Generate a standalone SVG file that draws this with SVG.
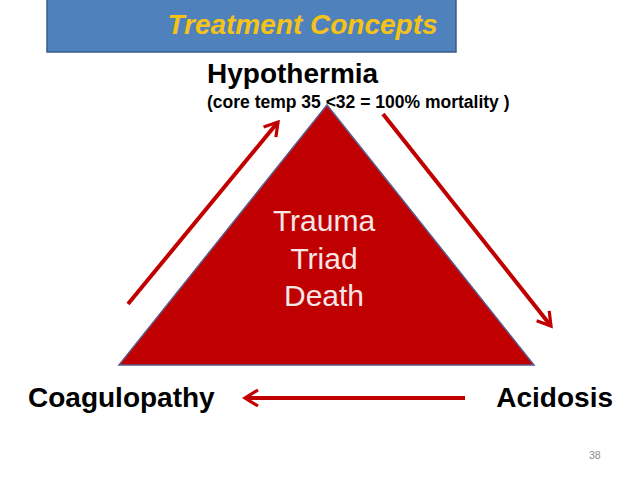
<svg xmlns="http://www.w3.org/2000/svg" width="638" height="479" viewBox="0 0 638 479">
<style>
.lbl{font-family:"Liberation Sans",Arial,sans-serif;font-weight:bold;fill:#000}
.tri{font-family:"Liberation Sans",Arial,sans-serif;font-size:30px;fill:#f6e6e6;text-anchor:middle}
.arr{stroke:#c00000;stroke-width:4;fill:none;stroke-linecap:butt}
</style>
<defs>
<marker id="ah" viewBox="0 0 10 10" refX="8" refY="5" markerWidth="5" markerHeight="5" orient="auto" markerUnits="strokeWidth">
<polyline points="1.5,1 8,5 1.5,9" fill="none" stroke="#c00000" stroke-width="1.6"/>
</marker>
</defs>
<rect width="638" height="479" fill="#fff"/>
<g id="title">
<rect x="47" y="-2" width="409" height="54" fill="#4f81bd" stroke="#385d8a" stroke-width="1.5"/>
<text x="302.5" y="34" font-family="Liberation Sans,Arial,sans-serif" font-weight="bold" font-style="italic" font-size="28" fill="#f5c318" text-anchor="middle">Treatment Concepts</text>
</g>
<g id="triangle">
<polygon points="327,105 119,365 534,365" fill="#c00000" stroke="#5a5a8c" stroke-width="1.5"/>
<text class="tri" x="324" y="231">Trauma</text>
<text class="tri" x="324" y="269">Triad</text>
<text class="tri" x="324" y="306">Death</text>
</g>
<g id="hypothermia">
<text class="lbl" x="207" y="83" font-size="28">Hypothermia</text>
<text class="lbl" x="207" y="108" font-size="17.5">(core temp 35 &lt;32 = 100% mortality )</text>
</g>
<g id="coagulopathy">
<text class="lbl" x="28" y="407" font-size="28">Coagulopathy</text>
</g>
<g id="acidosis">
<text class="lbl" x="613" y="407" font-size="28" text-anchor="end">Acidosis</text>
</g>
<g id="connectors">
<line class="arr" x1="128" y1="304" x2="278" y2="122" marker-end="url(#ah)"/>
<line class="arr" x1="383" y1="114" x2="551" y2="326" marker-end="url(#ah)"/>
<line class="arr" x1="465" y1="398" x2="245" y2="398" marker-end="url(#ah)"/>
</g>
<text x="589" y="459" font-family="Liberation Sans,Arial,sans-serif" font-size="10.5" fill="#8c8c8c">38</text>
</svg>
